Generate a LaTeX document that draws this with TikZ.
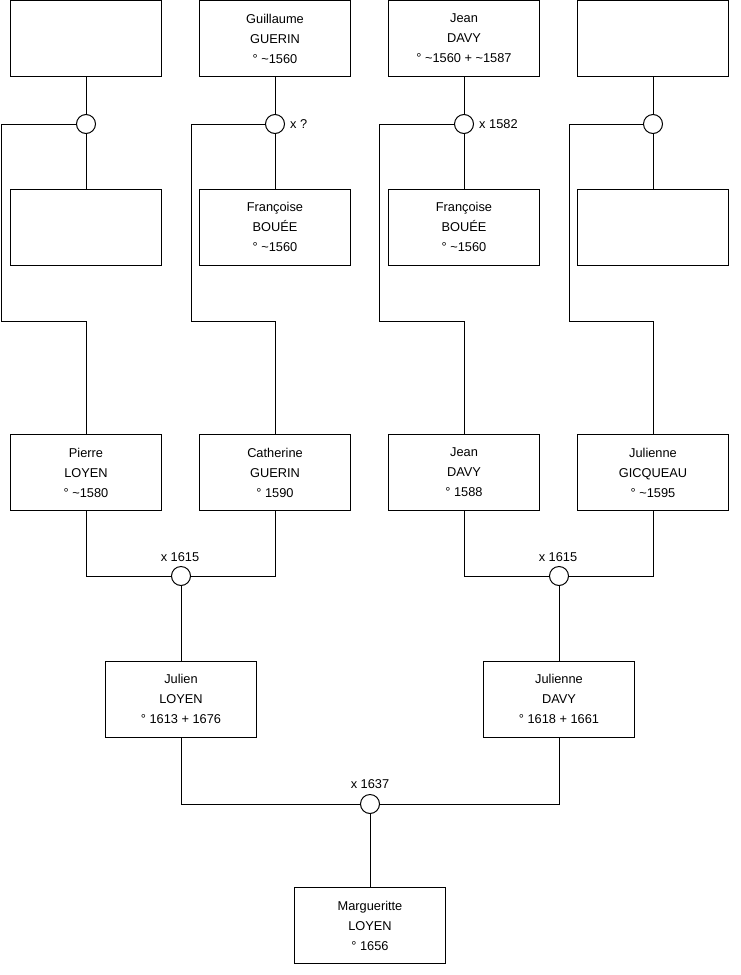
\documentclass[tikz,border=0pt]{standalone}
\usepackage{fontspec}
\setmainfont{Liberation Sans}
\begin{document}
\begin{tikzpicture}[x=1pt,y=-1pt,
  person/.style={draw=black, line width=1pt, minimum width=151pt, minimum height=76pt, inner sep=0pt, align=center, font=\fontsize{12.8}{20}\selectfont},
  union/.style={draw=black, fill=white, line width=1pt, circle, minimum size=19pt, inner sep=0pt},
  lbl/.style={font=\fontsize{12.8}{14}\selectfont, inner sep=0pt},
  link/.style={draw=black, line width=1pt}]
\useasboundingbox (0,0) rectangle (740,975);
% top row
\node[person] (b1) at (86,38.5) {};
\node[person] (b2) at (275,38.5) {Guillaume\\GUERIN\\° \textasciitilde1560};
\node[person] (b3) at (464,38.5) {Jean\\DAVY\\° \textasciitilde1560 + \textasciitilde1587};
\node[person] (b4) at (653,38.5) {};
% second row
\node[person] (s1) at (86,227) {};
\node[person] (s2) at (275,227) {Françoise\\BOUÉE\\° \textasciitilde1560};
\node[person] (s3) at (464,227) {Françoise\\BOUÉE\\° \textasciitilde1560};
\node[person] (s4) at (653,227) {};
% unions top
\node[union] (c1) at (86,124) {};
\node[union] (c2) at (275,124) {};
\node[union] (c3) at (464,124) {};
\node[union] (c4) at (653,124) {};
\node[lbl, anchor=west] (l2) at ([xshift=5pt]c2.east) {x ?};
\node[lbl, anchor=west] (l3) at ([xshift=5pt]c3.east) {x 1582};
% third row
\node[person] (p1) at (86,472.5) {Pierre\\LOYEN\\° \textasciitilde1580};
\node[person] (p2) at (275,472.5) {Catherine\\GUERIN\\° 1590};
\node[person] (p3) at (464,472.5) {Jean\\DAVY\\° 1588};
\node[person] (p4) at (653,472.5) {Julienne\\GICQUEAU\\° \textasciitilde1595};
% corners
\coordinate (k1) at (1,321);
\coordinate (k2) at (191,321);
\coordinate (k3) at (379,321);
\coordinate (k4) at (569,321);
% unions row 3
\node[union] (m1) at (181,576) {};
\node[union] (m2) at (559,576) {};
\node[lbl] (lm1) at (180,557) {x 1615};
\node[lbl] (lm2) at (558,557) {x 1615};
% fourth row
\node[person] (j1) at (181,699) {Julien\\LOYEN\\° 1613 + 1676};
\node[person] (j2) at (559,699) {Julienne\\DAVY\\° 1618 + 1661};
\node[union] (m3) at (370,804) {};
\node[lbl] (lm3) at (370,784) {x 1637};
\node[person] (g) at (370,925.5) {Margueritte\\LOYEN\\° 1656};
% connectors top
\foreach \i in {1,2,3,4} {
  \draw[link] (b\i.south) -- (c\i.north);
  \draw[link] (c\i.south) -- (s\i.north);
  \draw[link] (c\i.west) -| (k\i) -| (p\i.north);
}
% marriages
\draw[link] (p1.south) |- (m1.west);
\draw[link] (p2.south) |- (m1.east);
\draw[link] (p3.south) |- (m2.west);
\draw[link] (p4.south) |- (m2.east);
\draw[link] (m1.south) -- (j1.north);
\draw[link] (m2.south) -- (j2.north);
\draw[link] (j1.south) |- (m3.west);
\draw[link] (j2.south) |- (m3.east);
\draw[link] (m3.south) -- (g.north);
\end{tikzpicture}
\end{document}
